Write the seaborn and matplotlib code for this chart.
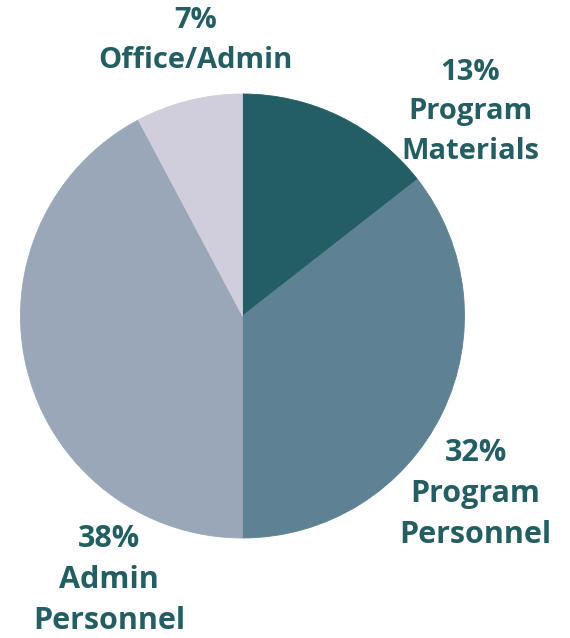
import matplotlib.pyplot as plt
import seaborn as sns
import matplotlib as mpl

sns.set_theme(style="white")
mpl.rcParams['font.family'] = ['Open Sans', 'DejaVu Sans']

categories = ['Program\nMaterials', 'Program\nPersonnel', 'Admin\nPersonnel', 'Office/Admin']
values = [13, 32, 38, 7]
pct_labels = ['13%', '32%', '38%', '7%']
colors = ['#225e64', '#5e8193', '#9aa7b8', '#d0cedc']
text_color = '#245e63'

# label centres in pie units (radius 1)
label_pos = [(1.025, 0.92), (1.05, -0.80), (-0.60, -1.19), (-0.21, 1.24)]
label_size = [21, 22, 22, 21]

fig = plt.figure(figsize=(5.7, 6.38), dpi=100)
ax = fig.add_axes([20 / 570, 100 / 638, 445 / 570, 444 / 638])

wedges, _ = ax.pie(values, colors=colors, startangle=90, counterclock=False,
                   wedgeprops=dict(linewidth=0.6))
for w, c in zip(wedges, colors):
    w.set_edgecolor(c)
ax.set_xlim(-1, 1)
ax.set_ylim(-1, 1)
ax.set_aspect('equal')

for cat, pct, (x, y), fs in zip(categories, pct_labels, label_pos, label_size):
    ax.text(x, y, pct + '\n' + cat, ha='center', va='center', fontsize=fs,
            fontweight='bold', color=text_color, linespacing=1.48, clip_on=False)

ax.axis('off')
plt.savefig('out.png', dpi=100)
plt.close()
